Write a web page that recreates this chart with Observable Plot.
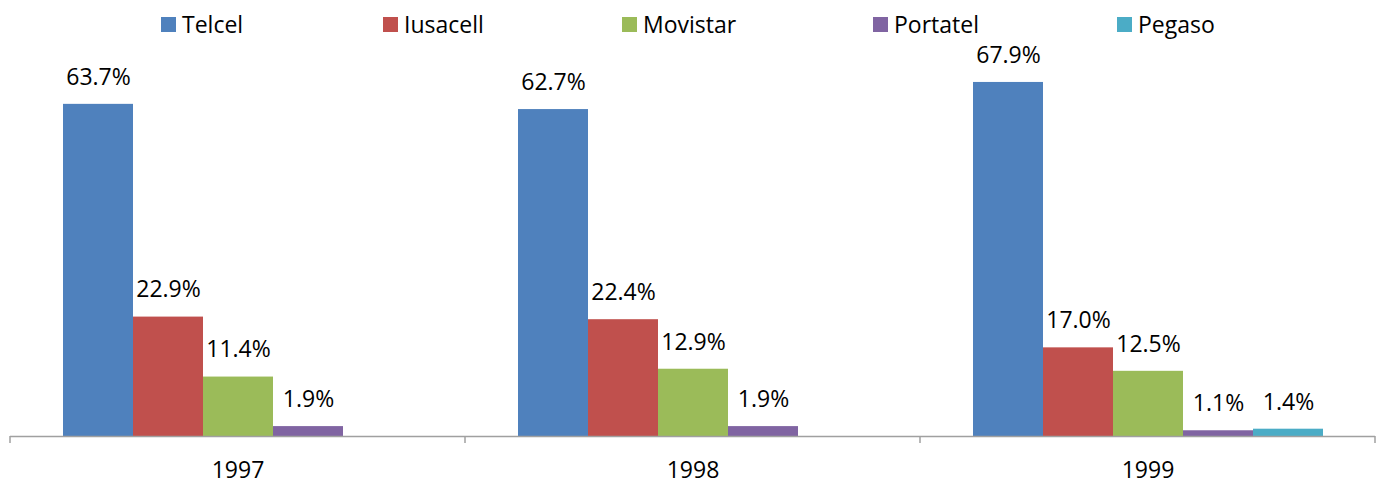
<!DOCTYPE html>
<html>
<head>
<meta charset="utf-8">
<script src="https://cdn.jsdelivr.net/npm/d3@7"></script>
<script src="https://cdn.jsdelivr.net/npm/@observablehq/plot@0.6"></script>
<style>
  body { margin: 0; background: #fff; font-family: "Open Sans", sans-serif; }
  #wrap { position: relative; width: 1380px; height: 483px; }
  #legend { position: absolute; left: 0; top: 0; width: 1380px; height: 50px; z-index: 2; }
  .item { position: absolute; top: 8px; display: flex; align-items: center; font-size: 23px; color: #000; white-space: nowrap; }
  .sw { width: 15px; height: 15px; margin-right: 6px; }
  #chart svg { display: block; }
</style>
</head>
<body>
<div id="wrap">
<div id="chart"></div>
<div id="legend"></div>
</div>
<script>
const years = ["1997", "1998", "1999"];
const companies = ["Telcel", "Iusacell", "Movistar", "Portatel", "Pegaso"];
const telcel   = [63.7, 62.7, 67.9];
const iusacell = [22.9, 22.4, 17.0];
const movistar = [11.4, 12.9, 12.5];
const portatel = [1.9, 1.9, 1.1];
const pegaso   = [null, null, 1.4];
const colors = ["#4F81BD", "#C0504D", "#9BBB59", "#8064A2", "#4BACC6"];
const legendLeft = [161, 383, 622, 873, 1117];

const seriesValues = [telcel, iusacell, movistar, portatel, pegaso];
const data = [];
years.forEach((yr, i) => {
  companies.forEach((c, j) => {
    const v = seriesValues[j][i];
    if (v != null) data.push({year: yr, company: c, value: v});
  });
});

// legend
const legend = document.getElementById("legend");
companies.forEach((c, j) => {
  const it = document.createElement("div");
  it.className = "item";
  it.style.left = legendLeft[j] + "px";
  const sw = document.createElement("span");
  sw.className = "sw";
  sw.style.background = colors[j];
  const tx = document.createElement("span");
  tx.textContent = c;
  it.appendChild(sw); it.appendChild(tx);
  legend.appendChild(it);
});

const chart = Plot.plot({
  width: 1380,
  height: 483,
  marginTop: 71,
  marginBottom: 47,
  marginLeft: 10,
  marginRight: 5,
  style: {fontFamily: "Open Sans, sans-serif", color: "#000", background: "#fff", overflow: "visible"},
  fx: {domain: years, padding: 0, label: null},
  x: {domain: companies, paddingInner: 0, paddingOuter: 0.75, axis: null},
  y: {domain: [0, 70], axis: null},
  color: {domain: companies, range: colors},
  marks: [
    Plot.barY(data, {fx: "year", x: "company", y: "value", fill: "company"}),
    Plot.text(data, {fx: "year", x: "company", y: "value", text: d => d.value.toFixed(1) + "%", dy: -27, fontSize: 23, fill: "#000"}),
    Plot.ruleY([0], {stroke: "#a0a0a0", strokeWidth: 1.5}),
    Plot.axisFx({anchor: "bottom", tickSize: 0, tickPadding: 25, fontSize: 23, label: null})
  ]
});

document.getElementById("chart").appendChild(chart);

// category boundary ticks from the fx scale
const fx = chart.scale("fx");
const ys = chart.scale("y");
const y0 = ys.apply(0);
const bounds = years.map(y => fx.apply(y));
bounds.push(fx.apply(years[years.length - 1]) + fx.bandwidth);
d3.select(chart).append("g")
  .attr("stroke", "#a0a0a0").attr("stroke-width", 1.5)
  .selectAll("line").data(bounds).join("line")
  .attr("x1", d => d).attr("x2", d => d)
  .attr("y1", y0).attr("y2", y0 + 7);
</script>
</body>
</html>
